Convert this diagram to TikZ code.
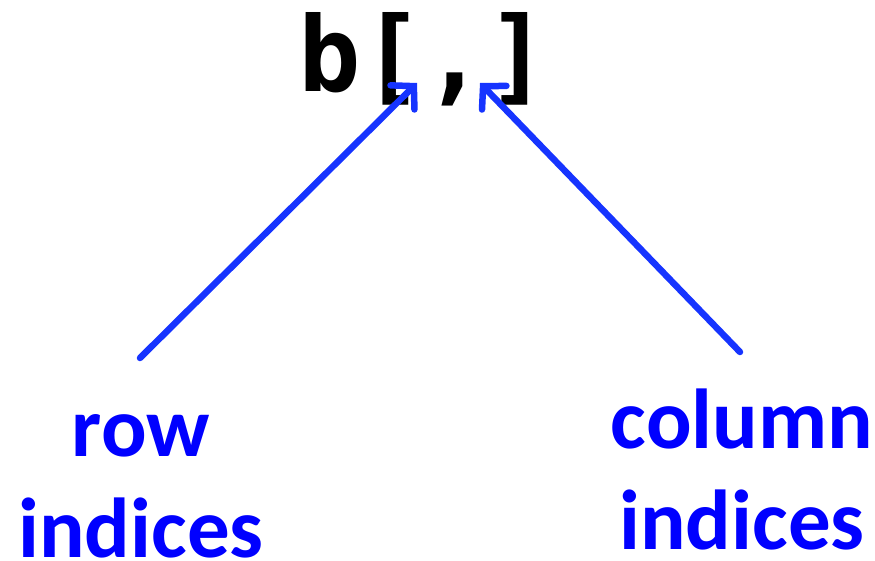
\documentclass[tikz,border=0pt]{standalone}
\usepackage{fontspec}
\usepackage{tikz}
\usetikzlibrary{arrows.meta, positioning}
\newfontfamily\codefont{DejaVu Sans Mono}
\newfontfamily\labelfont{Carlito}
\definecolor{idxBlue}{RGB}{0,0,255}
\definecolor{arrBlue}{RGB}{22,52,255}

\begin{document}
\begin{tikzpicture}[
  x=1pt, y=-1pt,
  code/.style={font=\codefont\bfseries\fontsize{104}{116}\selectfont,
               inner sep=0pt, anchor=base},
  idx/.style={font=\labelfont\bfseries\fontsize{85}{101}\selectfont,
              text=idxBlue, align=center, inner sep=0pt, anchor=base},
  arr/.style={-{Straight Barb[length=16pt, width=34pt, line cap=round]},
              line width=6.5pt, line cap=round, draw=arrBlue}
]
  \useasboundingbox (0,0) rectangle (875,561);
  \node[code] (expr) at (424,92) {b[,]};
  \node[idx] (row) at (141,557) {row\\indices};
  \node[idx] (col) at (742,549) {column\\indices};
  \coordinate (rowslot) at (417,83);
  \coordinate (colslot) at (480,83);
  \coordinate (rowfoot) at (140,358);
  \coordinate (colfoot) at (740,352);
  \draw[arr] (rowfoot) -- (rowslot);
  \draw[arr] (colfoot) -- (colslot);
\end{tikzpicture}
\end{document}
